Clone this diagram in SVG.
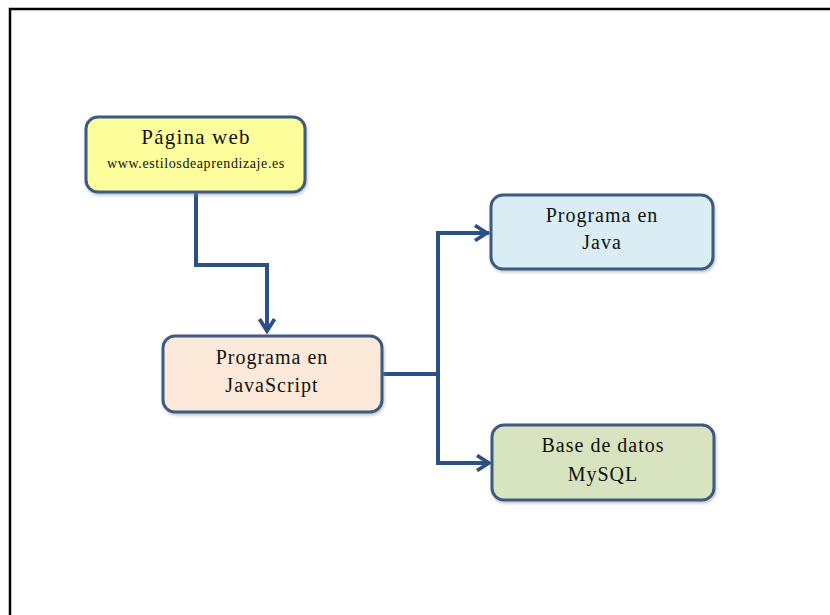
<svg xmlns="http://www.w3.org/2000/svg" width="830" height="615" viewBox="0 0 830 615">
<style>
.box{stroke:#3d5a80;stroke-width:3}
.t{font-family:"Liberation Serif","Times New Roman",serif;font-size:20px;letter-spacing:1px;fill:#111;text-anchor:middle}
.b{font-size:21px;letter-spacing:1.2px}
.s{font-size:14px;letter-spacing:0.6px}
.c{fill:none;stroke:#2c4f85;stroke-width:4;stroke-linejoin:miter}
</style>
<defs>
<marker id="ah" viewBox="0 0 12 12" refX="10" refY="6" markerWidth="4.5" markerHeight="4.5" markerUnits="strokeWidth" orient="auto">
<path d="M2,1 L10,6 L2,11" fill="none" stroke="#2c4f85" stroke-width="2.5"/>
</marker>
<filter id="sh" x="-10%" y="-10%" width="120%" height="130%">
<feDropShadow dx="1" dy="2" stdDeviation="1.5" flood-color="#8090a0" flood-opacity="0.5"/>
</filter>
</defs>
<rect width="830" height="615" fill="#fff"/>
<path d="M10,615 V9 H830" fill="none" stroke="#000" stroke-width="2.5"/>
<g id="connectors">
<path class="c" d="M196,192 V265 H267 V331" marker-end="url(#ah)"/>
<path class="c" d="M382,374 H438"/>
<path class="c" d="M489,233 H438 V463 H489"/>
<path class="c" d="M438,233 H487" marker-end="url(#ah)"/>
<path class="c" d="M438,463 H489" marker-end="url(#ah)"/>
</g>
<g id="pagina">
<rect class="box" x="86" y="117" width="219" height="75" rx="12" fill="#fefe9c" filter="url(#sh)"/>
<text class="t b" x="196" y="144">Página web</text>
<text class="t s" x="196" y="168">www.estilosdeaprendizaje.es</text>
</g>
<g id="javascript">
<rect class="box" x="163" y="336" width="219" height="76" rx="12" fill="#fde9da" filter="url(#sh)"/>
<text class="t" x="272" y="364">Programa en</text>
<text class="t" x="272" y="392">JavaScript</text>
</g>
<g id="java">
<rect class="box" x="491" y="195" width="222" height="74" rx="12" fill="#dbedf4" filter="url(#sh)"/>
<text class="t" x="602" y="222">Programa en</text>
<text class="t" x="602" y="249">Java</text>
</g>
<g id="mysql">
<rect class="box" x="492" y="425" width="222" height="75" rx="12" fill="#d8e3bf" filter="url(#sh)"/>
<text class="t" x="603" y="452">Base de datos</text>
<text class="t" x="603" y="481">MySQL</text>
</g>
</svg>
